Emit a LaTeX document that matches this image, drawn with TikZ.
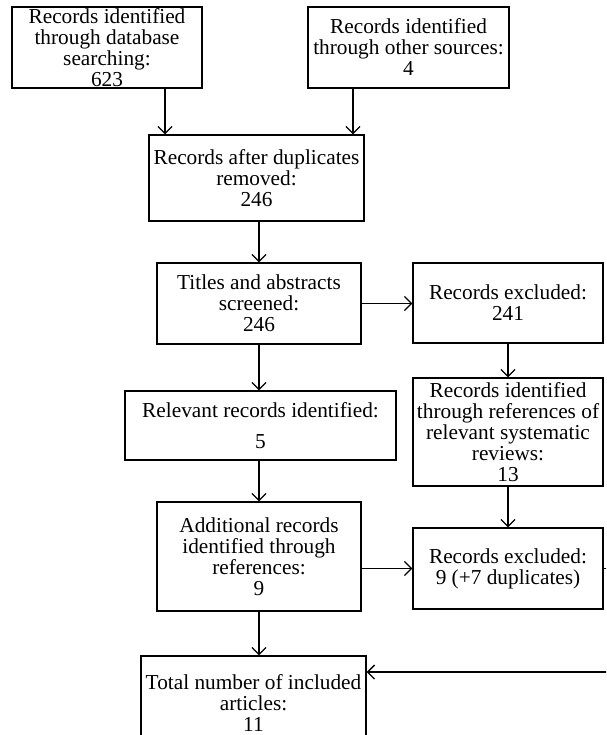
\documentclass[tikz,border=0pt]{standalone}
\usepackage{fontspec}
\setmainfont{Liberation Serif}
\usetikzlibrary{arrows.meta}
\begin{document}
\begin{tikzpicture}[x=1pt,y=-1pt,
	box/.style={draw,line width=1.3pt,align=center,inner sep=0pt,font=\fontsize{21.3}{21}\selectfont},
	arr/.style={line width=1.3pt,-{Straight Barb[length=7pt,width=14pt]}}]
		%frame
		\useasboundingbox (0,0) rectangle (606,735);
		\clip (0,0) rectangle (606,735);
		%boxes
		\node[box,minimum width=190,minimum height=81] (db) at (107,47.5) {Records identified\\through database\\searching:\\623};
		\node[box,minimum width=201,minimum height=81] (other) at (408.5,47.5) {Records identified\\through other sources:\\4};
		\node[box,minimum width=215,minimum height=86] (dup) at (256.5,178) {Records after duplicates\\removed:\\246};
		\node[box,minimum width=204,minimum height=81] (titles) at (259,303.5) {Titles and abstracts\\screened:\\246};
		\node[box,minimum width=190,minimum height=80] (excla) at (508,303) {Records excluded:\\241};
		\node[box,minimum width=190,minimum height=108] (refs) at (508,432) {Records identified\\through references of\\relevant systematic\\reviews:\\13};
		\node[box,minimum width=271,minimum height=69] (relevant) at (260.5,425.5) {Relevant records identified:\\[10pt]5};
		\node[box,minimum width=204,minimum height=109] (added) at (259,556.5) {Additional records\\identified through\\references:\\9};
		\node[box,minimum width=190,minimum height=81] (exclb) at (508,568.5) {Records excluded:\\9 (+7 duplicates)};
		\node[box,minimum width=225,minimum height=94] (total) at (253.5,703) {Total number of included\\articles:\\11};
		\coordinate (back) at (625,672);
		%arrows
		\draw[arr] ([xshift=58pt]db.south) -- ([xshift=58pt]db.south |- dup.north);
		\draw[arr] ([xshift=-55.5pt]other.south) -- ([xshift=-55.5pt]other.south |- dup.north);
		\draw[arr] (dup.south -| titles.north) -- (titles.north);
		\draw[arr] (titles.east) -- (titles.east -| excla.west);
		\draw[arr] (excla.south) -- (refs.north);
		\draw[arr] (titles.south) -- (titles.south |- relevant.north);
		\draw[arr] (relevant.south -| added.north) -- (added.north);
		\draw[arr] (refs.south) -- (exclb.north);
		\draw[arr] (exclb.west -| added.east) -- (exclb.west);
		\draw[arr] (added.south) -- (added.south |- total.north);
		\draw[arr] (exclb.east) -| (back) -- (back -| total.east);
	\end{tikzpicture}
\end{document}
